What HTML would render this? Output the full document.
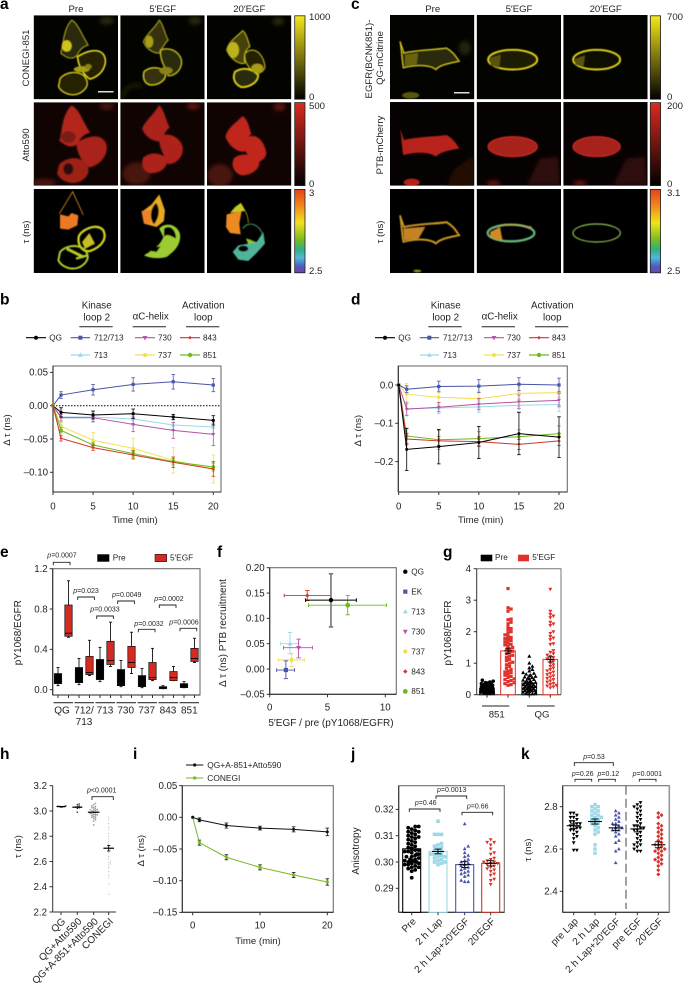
<!DOCTYPE html>
<html lang="en">
<head>
<meta charset="utf-8">
<title>CONEGI EGFR figure</title>
<style>
html,body{margin:0;padding:0;background:#fff}
svg text{font-family:"Liberation Sans",sans-serif;fill:#231f20}
#fig{display:block}
.pl{font-size:15.5px;font-weight:bold;fill:#000}
.t9{font-size:9.6px}
</style>
</head>
<body>
<svg id="fig" xmlns="http://www.w3.org/2000/svg" width="683" height="987" viewBox="0 0 683 987">
<defs>
<filter id="b1" x="-20%" y="-20%" width="140%" height="140%"><feGaussianBlur stdDeviation="1.4"/></filter>
<filter id="b3" x="-20%" y="-20%" width="140%" height="140%"><feGaussianBlur stdDeviation="2.6"/></filter>
<filter id="b2" x="-30%" y="-30%" width="160%" height="160%"><feGaussianBlur stdDeviation="6"/></filter>
<linearGradient id="gy" x1="0" y1="0" x2="0" y2="1"><stop offset="0" stop-color="#f6e71c"/><stop offset="1" stop-color="#000"/></linearGradient>
<linearGradient id="gr" x1="0" y1="0" x2="0" y2="1"><stop offset="0" stop-color="#dc2a20"/><stop offset="1" stop-color="#000"/></linearGradient>
<linearGradient id="gt" x1="0" y1="0" x2="0" y2="1"><stop offset="0" stop-color="#e8401c"/><stop offset=".2" stop-color="#f08a1c"/><stop offset=".4" stop-color="#f2e21c"/><stop offset=".6" stop-color="#7cbc20"/><stop offset=".72" stop-color="#30b080"/><stop offset=".82" stop-color="#50b8d8"/><stop offset=".92" stop-color="#4a60c0"/><stop offset="1" stop-color="#7a3ca8"/></linearGradient>
<path id="a1t" d="M215,60 C235,70 245,105 265,135 C250,140 238,150 232,165 C215,185 195,170 182,160 C190,130 190,85 215,60Z"/>
<path id="a1m" d="M232,170 C255,155 295,140 312,165 C325,190 310,225 270,238 C250,225 235,200 232,170Z"/>
<path id="a1b" d="M180,235 C195,218 225,210 250,225 C270,245 265,265 240,280 C215,292 185,280 175,260Z"/>
<path id="a2t" d="M478,60 C490,70 495,105 505,120 C490,135 485,150 478,160 C462,160 440,150 430,125 C440,100 465,85 478,60Z"/>
<path id="a2m" d="M482,150 C505,140 535,150 545,180 C548,210 525,228 505,228 C495,200 478,180 482,150Z"/>
<path id="a2b" d="M432,215 C450,198 480,200 495,215 C505,235 480,258 450,255 C430,250 428,230 432,215Z"/>
<path id="a3t" d="M728,92 C740,100 745,125 750,140 C735,150 730,170 735,190 C715,195 690,175 680,150 C685,125 710,110 728,92Z"/>
<path id="a3m" d="M735,160 C755,140 785,150 795,195 C798,215 775,222 765,225 C750,205 730,190 735,160Z"/>
<path id="a3b" d="M705,215 C730,200 755,205 775,225 C775,250 745,262 725,262 C705,255 695,235 705,215Z"/>
<path id="c1" d="M180,125 L192,160 C230,150 290,150 320,145 C345,160 350,175 358,185 C335,190 300,195 288,210 C270,195 225,195 190,205 C185,180 185,150 180,125Z"/>
<ellipse id="c2" cx="518" cy="180" rx="74" ry="30"/>
<ellipse id="c3" cx="770" cy="180" rx="71" ry="30"/>
</defs>

<!-- Panel a images -->
<g>
<svg x="33.7" y="15.3" width="84.3" height="84" viewBox="101 46 253 252"><rect x="101" y="46" width="253" height="252" fill="#030300"/>
<g filter="url(#b2)"><ellipse cx="320" cy="62" rx="22" ry="12" fill="#2a280a"/></g>
<g filter="url(#b1)"><use href="#a1t" fill="#2b2907" stroke="#b8ae1c" stroke-width="2.5"/><use href="#a1m" fill="#262406" stroke="#e8dc20" stroke-width="4"/><use href="#a1b" fill="#262406" stroke="#d8cc1e" stroke-width="3.5"/><ellipse cx="200" cy="138" rx="15" ry="17" fill="#d0c41e"/><ellipse cx="245" cy="208" rx="24" ry="9" fill="#a89e18"/><ellipse cx="265" cy="200" rx="10" ry="8" fill="#8a8214"/></g></svg>
<svg x="120.3" y="15.3" width="84.3" height="84" viewBox="361 46 253 252"><rect x="361" y="46" width="253" height="252" fill="#030300"/>
<g filter="url(#b2)"><ellipse cx="585" cy="62" rx="20" ry="12" fill="#2a280a"/><path d="M365,295 C375,260 400,250 425,260" stroke="#2a280a" stroke-width="8" fill="none"/></g>
<g filter="url(#b1)"><use href="#a2t" fill="#35320a" stroke="#a89e1a" stroke-width="3"/><use href="#a2m" fill="#2b2907" stroke="#c8bd1e" stroke-width="3.5"/><use href="#a2b" fill="#35320a" stroke="#d0c41e" stroke-width="4"/><ellipse cx="448" cy="125" rx="12" ry="18" fill="#a89e18"/><ellipse cx="498" cy="212" rx="20" ry="11" fill="#8a8214"/></g></svg>
<svg x="207" y="15.3" width="84.3" height="84" viewBox="621 46 253 252"><rect x="621" y="46" width="253" height="252" fill="#030300"/>
<g filter="url(#b2)"><ellipse cx="835" cy="64" rx="18" ry="12" fill="#2a280a"/></g>
<g filter="url(#b1)"><use href="#a3t" fill="#46420c" stroke="#c0b51e" stroke-width="3"/><use href="#a3m" fill="#262406" stroke="#c8bd1e" stroke-width="2.5"/><use href="#a3b" fill="#2b2907" stroke="#e0d41e" stroke-width="5"/><ellipse cx="700" cy="150" rx="17" ry="24" fill="#bcb21c"/><ellipse cx="772" cy="205" rx="18" ry="14" fill="#a89e18"/></g></svg>

<svg x="33.7" y="102.3" width="84.3" height="83.3" viewBox="101 46 253 250"><rect x="101" y="46" width="253" height="250" fill="#100403"/>
<g filter="url(#b2)"><ellipse cx="320" cy="58" rx="22" ry="10" fill="#4a1210"/><ellipse cx="130" cy="288" rx="40" ry="12" fill="#4a120e"/></g>
<g filter="url(#b3)" fill="#9c2118" stroke="#9c2118" stroke-width="7"><use href="#a1t" fill="#b3261c" stroke="#b3261c"/><use href="#a1m" fill="#aa241a" stroke="#aa241a"/><use href="#a1b"/><ellipse cx="205" cy="246" rx="15" ry="17" fill="#2a0a08" stroke="none"/><ellipse cx="205" cy="150" rx="22" ry="18" fill="#7c1c12" stroke="none"/></g></svg>
<svg x="120.3" y="102.3" width="84.3" height="83.3" viewBox="361 46 253 250"><rect x="361" y="46" width="253" height="250" fill="#100403"/>
<g filter="url(#b2)"><ellipse cx="580" cy="58" rx="20" ry="9" fill="#6a1610"/><ellipse cx="410" cy="260" rx="42" ry="34" fill="#48120e"/></g>
<g filter="url(#b3)" fill="#ae241b" stroke="#ae241b" stroke-width="7"><use href="#a2t"/><use href="#a2m"/><use href="#a2b"/></g></svg>
<svg x="207" y="102.3" width="84.3" height="83.3" viewBox="621 46 253 250"><rect x="621" y="46" width="253" height="250" fill="#100403"/>
<g filter="url(#b2)"><ellipse cx="838" cy="60" rx="18" ry="12" fill="#5a1410"/><ellipse cx="660" cy="265" rx="38" ry="34" fill="#48120e"/></g>
<g filter="url(#b3)" fill="#c0281e" stroke="#c0281e" stroke-width="7"><use href="#a3t"/><use href="#a3m"/><use href="#a3b"/></g></svg>

<svg x="33.7" y="189" width="84.3" height="84" viewBox="101 46 253 252"><rect x="101" y="46" width="253" height="252" fill="#000"/>
<g filter="url(#b1)" fill="none"><path d="M178,120 L218,54 L250,124" stroke="#dc8a2c" stroke-width="2.5"/><path d="M180,122 L205,128 L215,118 L235,125 L232,155 L205,168 L180,165Z" fill="#ec7a24"/><path d="M236,190 C240,170 290,145 310,170 C322,195 305,220 270,232 C250,236 232,218 236,190Z" stroke="#cdd21e" stroke-width="7"/><path d="M246,205 L268,178 L285,210 L255,226Z" fill="#c8c020"/><path d="M180,235 C195,218 225,210 250,225 C272,245 265,265 240,280 C215,292 185,280 175,260Z" stroke="#b4cc28" stroke-width="6"/><path d="M200,225 L250,250" stroke="#b4cc28" stroke-width="9"/><path d="M228,255 L262,245" stroke="#b4cc28" stroke-width="7"/></g></svg>
<svg x="120.3" y="189" width="84.3" height="84" viewBox="361 46 253 252"><rect x="361" y="46" width="253" height="252" fill="#000"/>
<g filter="url(#b1)" fill="none"><path d="M478,62 L495,110 L492,142 L470,160 L432,150 L425,115 L455,92Z" fill="#e8a822"/><path d="M425,112 L452,108 L452,150 L432,150Z" fill="#ee8226"/><path d="M468,88 C480,100 480,130 462,152 C448,135 450,105 468,88Z" fill="#000"/><path d="M478,165 C495,145 530,150 540,180 C545,215 520,235 500,250 C470,258 440,250 432,245 C465,225 480,215 490,190Z" fill="#9ccc30"/><path d="M492,165 C510,150 530,170 528,195 C510,185 500,180 492,190Z" fill="#000"/><path d="M448,222 L482,218 L470,235 L440,230Z" fill="#000"/></g></svg>
<svg x="207" y="189" width="84.3" height="84" viewBox="621 46 253 252"><rect x="621" y="46" width="253" height="252" fill="#000"/>
<g filter="url(#b1)" fill="none"><path d="M722,88 C735,110 745,125 745,148" stroke="#c8c820" stroke-width="2"/><path d="M722,88 L735,112 L690,118 L705,100Z" fill="#c8c820"/><path d="M680,122 L725,112 L718,150 L722,182 L690,178 L678,160Z" fill="#ee8a22"/><path d="M728,165 C745,140 780,150 790,190" stroke="#58b878" stroke-width="2.5"/><path d="M790,175 L795,210 L770,238 L745,262 L715,258 L698,235 L715,215 L745,210 L770,205Z" fill="#50b49a"/><path d="M740,195 C745,165 770,155 778,178 C775,195 755,205 740,195Z" fill="#000"/><ellipse cx="730" cy="225" rx="15" ry="9" fill="#000"/><path d="M738,195 L770,205 L745,212Z" fill="#90c438"/></g></svg>
</g>

<!-- Panel c images -->
<g>
<svg x="390" y="15" width="84.3" height="84.3" viewBox="150 46 253 253"><rect x="150" y="46" width="253" height="253" fill="#030300"/>
<g filter="url(#b2)"><ellipse cx="375" cy="145" rx="18" ry="22" fill="#22200a"/></g>
<g filter="url(#b1)"><use href="#c1" fill="#2b2907" stroke="#d8cc1e" stroke-width="3.5"/><path d="M195,165 L235,160 L230,195 L195,200Z" fill="#6a6410"/><ellipse cx="212" cy="287" rx="26" ry="10" fill="#5a5510"/></g></svg>
<svg x="476.7" y="15" width="84.3" height="84.3" viewBox="410 46 253 253"><rect x="410" y="46" width="253" height="253" fill="#030300"/>
<g filter="url(#b1)"><use href="#c2" fill="#1c1a05" stroke="#e0d41e" stroke-width="5"/><path d="M448,175 L482,165 L478,205 L452,198Z" fill="#585210"/></g></svg>
<svg x="563.3" y="15" width="84.3" height="84.3" viewBox="670 46 253 253"><rect x="670" y="46" width="253" height="253" fill="#030300"/>
<g filter="url(#b1)"><use href="#c3" fill="#100f04" stroke="#e0d41e" stroke-width="5"/><path d="M704,178 L735,167 L730,203 L706,195Z" fill="#585210"/></g></svg>

<svg x="390" y="102" width="84.3" height="83.7" viewBox="150 46 253 251"><rect x="150" y="46" width="253" height="251" fill="#070202"/>
<g filter="url(#b2)"><path d="M340,250 L403,205 L403,300 L320,300Z" fill="#220806"/></g>
<g filter="url(#b1)"><ellipse cx="215" cy="287" rx="24" ry="11" fill="#b8241c"/><use href="#c1" fill="#b8241c"/></g></svg>
<svg x="476.7" y="102" width="84.3" height="83.7" viewBox="410 46 253 251"><rect x="410" y="46" width="253" height="251" fill="#070202"/>
<g filter="url(#b2)"><ellipse cx="460" cy="290" rx="20" ry="8" fill="#701612"/><path d="M560,295 L600,215 L655,210 L660,295Z" fill="#2e0b09"/></g>
<g filter="url(#b1)"><use href="#c2" fill="#a8221a" stroke="#d42c20" stroke-width="3"/></g></svg>
<svg x="563.3" y="102" width="84.3" height="83.7" viewBox="670 46 253 251"><rect x="670" y="46" width="253" height="251" fill="#070202"/>
<g filter="url(#b2)"><ellipse cx="720" cy="290" rx="20" ry="8" fill="#701612"/><path d="M820,295 L860,215 L915,210 L920,295Z" fill="#2e0b09"/></g>
<g filter="url(#b1)"><use href="#c3" fill="#a8221a" stroke="#d42c20" stroke-width="3"/></g></svg>

<svg x="390" y="189" width="84.3" height="84" viewBox="150 46 253 252"><rect x="150" y="46" width="253" height="252" fill="#000"/>
<g filter="url(#b1)"><use href="#c1" fill="#000" stroke="#cf9a28" stroke-width="5"/><path d="M190,165 L255,160 L235,195 L192,200Z" fill="#c48428"/><ellipse cx="232" cy="292" rx="12" ry="4" fill="#8a8a20"/></g></svg>
<svg x="476.7" y="189" width="84.3" height="84" viewBox="410 46 253 252"><rect x="410" y="46" width="253" height="252" fill="#000"/>
<g filter="url(#b1)"><ellipse cx="513" cy="178" rx="70" ry="25" fill="none" stroke="#68b478" stroke-width="7"/><path d="M450,175 L480,160 L488,202 L452,192Z" fill="#d08a28"/><path d="M480,155 Q515,150 575,160" fill="none" stroke="#d09a28" stroke-width="3"/></g></svg>
<svg x="563.3" y="189" width="84.3" height="84" viewBox="670 46 253 252"><rect x="670" y="46" width="253" height="252" fill="#000"/>
<g filter="url(#b1)"><ellipse cx="770" cy="178" rx="71" ry="27" fill="none" stroke="#8cc050" stroke-width="3.5"/></g></svg>
</g>

<!-- colorbars -->
<g stroke="#222" stroke-width=".8">
<rect x="294.7" y="15.8" width="10.3" height="83.4" fill="url(#gy)"/>
<rect x="294.7" y="102.6" width="10.3" height="83" fill="url(#gr)"/>
<rect x="294.7" y="189.4" width="10.3" height="83.4" fill="url(#gt)"/>
<rect x="650.3" y="15.8" width="10.3" height="83.4" fill="url(#gy)"/>
<rect x="650.3" y="102.6" width="10.3" height="83" fill="url(#gr)"/>
<rect x="650.3" y="189.4" width="10.3" height="83.4" fill="url(#gt)"/>
</g>

<!-- static labels -->
<g>
<text class="pl" x="0" y="9">a</text>
<text class="pl" x="351" y="9">c</text>
<text class="pl" x="0" y="304.5">b</text>
<text class="pl" x="351" y="304.5">d</text>
<text class="pl" x="0" y="557">e</text>
<text class="pl" x="217" y="557">f</text>
<text class="pl" x="443" y="557">g</text>
<text class="pl" x="0" y="759">h</text>
<text class="pl" x="133" y="759">i</text>
<text class="pl" x="351" y="759">j</text>
<text class="pl" x="521" y="759">k</text>
</g>
<g class="t9" text-anchor="middle">
<text x="76" y="12">Pre</text>
<text x="162.7" y="12">5′EGF</text>
<text x="249.3" y="12">20′EGF</text>
<text x="432.7" y="12">Pre</text>
<text x="519" y="12">5′EGF</text>
<text x="605.7" y="12">20′EGF</text>
<text transform="translate(29,58) rotate(-90)">CONEGI-851</text>
<text transform="translate(29,145) rotate(-90)">Atto590</text>
<text transform="translate(29,232) rotate(-90)">τ (ns)</text>
<text transform="translate(372,59) rotate(-90)">EGFR(BCNK851)-</text>
<text transform="translate(383,58) rotate(-90)">QG-mCitrine</text>
<text transform="translate(383,145) rotate(-90)">PTB-mCherry</text>
<text transform="translate(383,232) rotate(-90)">τ (ns)</text>
</g>
<g class="t9">
<text x="309" y="20">1000</text>
<text x="309" y="100">0</text>
<text x="309" y="109">500</text>
<text x="309" y="187">0</text>
<text x="309" y="196">3</text>
<text x="309" y="274">2.5</text>
<text x="667" y="20">700</text>
<text x="667" y="100">0</text>
<text x="667" y="109">200</text>
<text x="667" y="187">0</text>
<text x="667" y="196">3.1</text>
<text x="667" y="274">2.5</text>
</g>
<rect x="98" y="91" width="15.5" height="1.5" fill="#ddd"/>
<rect x="454" y="92" width="15.5" height="1.5" fill="#ddd"/>
<g id="charts"></g>
</svg>

<script>
// ---- Panel b data ----
const times=[0,1,5,10,15,20];
const bQG=[0,-0.010,-0.014,-0.012,-0.017,-0.022];
const bQGErr=[0,0.007,0.006,0.007,0.004,0.007];
const b712=[0,0.016,0.024,0.032,0.036,0.031];
const b712Err=[0,0.005,0.008,0.010,0.011,0.010];
const b713=[0,-0.017,-0.017,-0.020,-0.029,-0.032];
const b713Err=[0,0.012,0.008,0.010,0.008,0.010];
const b730=[0,-0.018,-0.018,-0.028,-0.037,-0.043];
const b730Err=[0,0.005,0.006,0.011,0.012,0.017];
const b737=[0,-0.031,-0.052,-0.064,-0.082,-0.095];
const b737Err=[0,0.006,0.012,0.015,0.019,0.021];
const b843=[0,-0.049,-0.063,-0.074,-0.085,-0.095];
const b843Err=[0,0.004,0.004,0.006,0.008,0.011];
const b851=[0,-0.037,-0.059,-0.072,-0.084,-0.092];
const b851Err=[0,0.004,0.004,0.005,0.005,0.006];
const bYTicks=[0.05,0,-0.05,-0.10];
const bYLabels=['0.05','0.00','–0.05','–0.10'];
const xTimeTicks=[0,5,10,15,20];
// ---- Panel d data ----
const dQG=[0,-0.168,-0.161,-0.150,-0.127,-0.136];
const dQGErr=[0,0.055,0.045,0.042,0.055,0.053];
const d712=[0,-0.011,-0.004,-0.003,0.002,0];
const d712Err=[0,0.009,0.014,0.017,0.017,0.018];
const d713=[0,-0.062,-0.060,-0.057,-0.053,-0.051];
const d713Err=[0,0.019,0.015,0.015,0.016,0.018];
const d730=[0,-0.063,-0.058,-0.050,-0.044,-0.040];
const d730Err=[0,0.016,0.012,0.015,0.018,0.017];
const d737=[0,-0.024,-0.032,-0.036,-0.022,-0.020];
const d737Err=[0,0.028,0.020,0.020,0.017,0.019];
const d843=[0,-0.141,-0.146,-0.148,-0.155,-0.146];
const d843Err=[0,0.015,0.012,0.013,0.013,0.012];
const d851=[0,-0.133,-0.143,-0.140,-0.135,-0.127];
const d851Err=[0,0.020,0.025,0.018,0.018,0.020];
const dYTicks=[0,-0.1,-0.2];
const dYLabels=['0.0','–0.1','–0.2'];
// ---- Panel e data: low whisker, q1, median, q3, high whisker ----
const eGroups=['QG','712/713','713','730','737','843','851'];
const ePre=[[.04,.06,.10,.16,.22],[.05,.07,.12,.22,.31],[.08,.10,.18,.30,.42],[.03,.04,.07,.20,.29],[.02,.03,.06,.14,.21],[.01,.01,.02,.03,.04],[.02,.02,.04,.06,.08]];
const ePost=[[.52,.53,.56,.84,1.08],[.14,.15,.17,.33,.49],[.23,.25,.29,.48,.67],[.16,.22,.27,.43,.57],[.09,.10,.12,.27,.41],[.09,.09,.12,.18,.23],[.27,.28,.31,.41,.51]];
const eYTicks=[1.2,0.8,0.4,0];
const eYLabels=['1.2','0.8','0.4','0.0'];
const ePValues=['p=0.0007','p=0.023','p=0.0033','p=0.0049','p=0.0032','p=0.0002','p=0.0006'];
// ---- Panel f data ----
const fLabels=['QG','EK','713','730','737','843','851'];
const fX=[5.3,1.4,1.75,2.5,1.9,3.25,6.75];
const fXLow=[3.1,0.6,0.95,1.2,0.75,1.25,3.35];
const fXHigh=[7.5,2.15,2.5,3.7,3.0,5.3,10.1];
const fY=[0.136,-0.002,0.05,0.042,0.018,0.145,0.126];
const fYLow=[0.083,-0.019,0.03,0.022,0.005,0.135,0.107];
const fYHigh=[0.188,0.016,0.072,0.059,0.031,0.155,0.145];
const fXTicks=[0,5,10];
const fYTicks=[0.20,0.15,0.10,0.05,0,-0.05];
const fYLabels=['0.20','0.15','0.10','0.05','0.00','–0.05'];
// ---- Panel g data ----
const g851Pre=[.04,.05,.06,.07,.08,.08,.09,.1,.1,.11,.11,.12,.12,.13,.13,.14,.14,.15,.15,.16,.16,.17,.17,.18,.18,.19,.2,.2,.21,.22,.22,.23,.24,.25,.25,.26,.27,.28,.29,.3,.31,.32,.33,.34,.35,.37,.38,.4,.43,.46];
const g851Post=[.3,.32,.35,.38,.42,.45,.48,.5,.55,.58,.62,.65,.7,.72,.75,.8,.84,.9,.95,1,1.03,1.08,1.12,1.18,1.22,1.25,1.3,1.34,1.38,1.42,1.45,1.5,1.55,1.58,1.6,1.65,1.68,1.72,1.75,1.78,1.82,1.85,1.9,1.95,2,2.05,2.1,2.15,2.25,2.3,2.38,2.4,2.65,2.72,2.76,3.37];
const gQGPre=[.02,.03,.05,.06,.08,.09,.1,.12,.13,.14,.15,.16,.18,.19,.2,.21,.22,.24,.25,.26,.27,.28,.3,.31,.32,.33,.35,.36,.38,.39,.4,.42,.44,.46,.48,.5,.52,.54,.56,.58,.6,.62,.65,.68,.7,.75,.8,.85,.9,1.0,1.22];
const gQGPost=[.22,.25,.28,.3,.33,.36,.4,.44,.48,.52,.56,.6,.64,.68,.72,.76,.8,.85,.9,.95,1,1.05,1.1,1.14,1.18,1.22,1.26,1.3,1.35,1.4,1.6,1.62,1.75,1.8,1.85,1.95,2,2.2,2.25,2.3,2.45,2.5,2.55,2.65,3.35];
const gMeans=[0.2,1.39,0.37,1.12];
const gErrs=[0.02,0.09,0.03,0.08];
const gYTicks=[4,3,2,1,0];
// ---- Panel h data ----
const hQG=[3.03,3.032,3.035,3.035,3.037,3.04];
const hQGAtto=[2.99,3.02,3.025,3.03,3.03,3.035,3.04,3.05,3.055];
const hA851=[2.89,2.92,2.93,2.94,2.945,2.95,2.955,2.96,2.965,2.97,2.97,2.975,2.98,2.98,2.985,2.99,2.99,3.0,3.0,3.005,3.01,3.01,3.015,3.02,3.025,3.03,3.035,3.04,3.05,3.06];
const hConegi=[2.34,2.42,2.47,2.49,2.52,2.55,2.57,2.58,2.59,2.6,2.62,2.64,2.67,2.69,2.7,2.72,2.74,2.76,2.78,2.8,2.82,2.85,2.87,2.9,2.93,2.95];
const hMeans=[3.035,3.03,2.99,2.705];
const hErrs=[0.002,0.004,0.006,0.022];
const hYTicks=[3.2,3.0,2.8,2.6,2.4,2.2];
const hGroups=['QG','QG+Atto590','QG+A-851+Atto590','CONEGI'];
// ---- Panel i data ----
const iQG=[0,-0.004,-0.013,-0.017,-0.019,-0.023];
const iQGErr=[0,0.003,0.004,0.003,0.004,0.006];
const iCon=[0,-0.040,-0.063,-0.079,-0.091,-0.102];
const iConErr=[0,0.004,0.004,0.004,0.004,0.005];
const iYTicks=[0.05,0,-0.05,-0.10,-0.15];
const iYLabels=['0.05','0.00','–0.05','–0.10','–0.15'];
const iXTicks=[0,10,20];
// ---- Panel j data ----
const jPre=[.294,.2965,.297,.2975,.298,.298,.2985,.299,.299,.2995,.2995,.3,.3,.3,.3005,.3005,.301,.301,.3015,.302,.302,.3025,.303,.303,.3035,.304,.304,.3045,.3045,.305,.305,.3055,.306,.3065,.307,.3075,.308,.3085,.309,.3095,.3095,.31,.3105,.311,.3115,.3115,.312,.3125,.313,.3135,.3135];
const jLap=[.299,.2995,.3,.3,.3005,.301,.3015,.302,.302,.3025,.303,.303,.3035,.304,.3045,.305,.3055,.306,.3065,.307,.3105,.3105,.3105,.3155];
const jLapEGF=[.2925,.2925,.293,.2945,.295,.2955,.296,.2965,.297,.2975,.298,.2985,.299,.2995,.3,.3005,.301,.302,.3025,.3035,.305,.306,.3145];
const jEGF=[.2915,.293,.2935,.295,.2955,.2965,.297,.2975,.298,.2985,.299,.2995,.2995,.3,.3,.3005,.301,.3015,.303,.3035,.305,.3065,.3075,.3075,.3085];
const jMeans=[0.305,0.304,0.299,0.2995];
const jErrs=[0.0006,0.0009,0.0011,0.0010];
const jGroups=['Pre','2 h Lap','2 h Lap+20′EGF','20′EGF'];
const jYTicks=[0.32,0.31,0.30,0.29];
const jYLabels=['0.32','0.31','0.30','0.29'];
// ---- Panel k data ----
const kPreLap=[2.595,2.595,2.63,2.65,2.66,2.67,2.68,2.69,2.69,2.70,2.70,2.71,2.71,2.72,2.72,2.73,2.73,2.74,2.75,2.75,2.76,2.77,2.77];
const kLap=[2.58,2.60,2.62,2.67,2.68,2.69,2.70,2.71,2.72,2.72,2.73,2.74,2.74,2.75,2.75,2.76,2.76,2.77,2.78,2.78,2.79,2.80,2.80,2.81];
const kLapEGF=[2.535,2.59,2.60,2.63,2.64,2.66,2.67,2.68,2.69,2.69,2.70,2.70,2.71,2.72,2.72,2.73,2.74,2.75,2.76,2.77,2.78];
const kPreEGF=[2.59,2.59,2.60,2.61,2.62,2.62,2.63,2.64,2.65,2.66,2.67,2.68,2.69,2.69,2.70,2.70,2.71,2.71,2.72,2.73,2.74,2.75,2.76,2.77,2.78,2.79,2.80,2.80,2.81,2.82];
const kEGF=[2.48,2.50,2.52,2.53,2.54,2.55,2.55,2.56,2.57,2.58,2.59,2.59,2.60,2.60,2.61,2.62,2.62,2.63,2.64,2.65,2.66,2.67,2.68,2.69,2.70,2.71,2.72,2.75,2.76,2.77];
const kMeans=[2.71,2.73,2.70,2.695,2.62];
const kErrs=[0.012,0.012,0.013,0.014,0.014];
const kGroups=['pre Lap','2 h Lap','2 h Lap+20′EGF','pre EGF','20′EGF'];
const kYTicks=[2.8,2.6,2.4];
const kYLabels=['2.8','2.6','2.4'];

// ---- styles ----
const C={QG:'#000',b712:'#4a55a6',b713:'#9bd9e8',b730:'#b552aa',b737:'#f5df4d',b843:'#d5352c',b851:'#6fb81e',dark:'#231f20'};
const root=document.getElementById('charts');
const NS='http://www.w3.org/2000/svg';

function mk(tag,attrs,parent,name){
  const el=document.createElementNS(NS,tag);
  for(const k in attrs) el.setAttribute(k,attrs[k]);
  
  
  parent.appendChild(el);
  return el;
}
function txt(x,y,s,parent,name,size,anchor,extra){
  const a=Object.assign({x:x,y:y,'font-size':size||9.6,'text-anchor':anchor||'start'},extra||{});
  const el=mk('text',a,parent,name);
  el.textContent=s;
  return el;
}
function rtxt(x,y,s,parent,name,size,rot,anchor){
  const el=mk('text',{transform:'translate('+x+','+y+') rotate('+rot+')','font-size':size||9.6,'text-anchor':anchor||'middle'},parent,name);
  el.textContent=s;
  return el;
}
function ln(x1,y1,x2,y2,parent,name,stroke,w,extra){
  return mk('line',Object.assign({x1:x1,y1:y1,x2:x2,y2:y2,stroke:stroke||C.dark,'stroke-width':w||1},extra||{}),parent,name);
}
function scale(d0,d1,r0,r1){return function(v){return r0+(v-d0)*(r1-r0)/(d1-d0);};}
function marker(type,x,y,r,color,parent,name){
  if(type==='circle') return mk('circle',{cx:x,cy:y,r:r,fill:color},parent,name);
  if(type==='square') return mk('rect',{x:x-r,y:y-r,width:2*r,height:2*r,fill:color},parent,name);
  let pts;
  if(type==='up') pts=[[x,y-r*1.2],[x+r*1.1,y+r*.8],[x-r*1.1,y+r*.8]];
  else if(type==='down') pts=[[x,y+r*1.2],[x+r*1.1,y-r*.8],[x-r*1.1,y-r*.8]];
  else pts=[[x,y-r*1.2],[x+r*1.2,y],[x,y+r*1.2],[x-r*1.2,y]];
  return mk('polygon',{points:pts.map(function(p){return p.join(',');}).join(' '),fill:color},parent,name);
}
function frame(x0,y0,x1,y1,parent,name){
  mk('rect',{x:x0,y:y0,width:x1-x0,height:y1-y0,fill:'none',stroke:'#6e6e6e','stroke-width':1.1},parent,name+'-frame');
  ln(x0,y0,x0,y1,parent,name+'-y-axis','#333',1.1);
  ln(x0,y1,x1,y1,parent,name+'-x-axis','#333',1.1);
}
function yAxis(ticks,labels,sy,x,parent,name){
  ticks.forEach(function(t,i){
    ln(x-3,sy(t),x,sy(t),parent,name+'-y-tick','#333',1);
    txt(x-5,sy(t)+3.3,labels[i],parent,name+'-y-tick-label',9.7,'end');
  });
}
function xAxis(ticks,labels,sx,y,labelY,parent,name){
  ticks.forEach(function(t,i){
    ln(sx(t),y,sx(t),y+3,parent,name+'-x-tick','#333',1);
    txt(sx(t),labelY,labels[i],parent,name+'-x-tick-label',9.7,'middle');
  });
}
function errBar(x,yLo,yHi,cap,parent,name,color,w){
  ln(x,yLo,x,yHi,parent,name,color,w||.8);
  ln(x-cap,yLo,x+cap,yLo,parent,name+'-cap',color,w||.8);
  ln(x-cap,yHi,x+cap,yHi,parent,name+'-cap',color,w||.8);
}
function series(xs,ys,errs,sx,sy,color,mtype,r,parent,name,errColor){
  const g=mk('g',{},parent,name);
  xs.forEach(function(t,i){
    if(errs[i]>0) errBar(sx(t),sy(ys[i]-errs[i]),sy(ys[i]+errs[i]),1.8,g,name+'-error-bar',errColor||color,.8);
  });
  mk('polyline',{points:xs.map(function(t,i){return sx(t)+','+sy(ys[i]);}).join(' '),fill:'none',stroke:color,'stroke-width':1},g,name+'-line');
  xs.forEach(function(t,i){marker(mtype,sx(t),sy(ys[i]),r,color,g,name+'-point');});
}
// deterministic beeswarm: x offsets derived only from the values
function swarm(values,cx,sy,dist,maxW,mtype,r,color,parent,name){
  const placed=[];
  const g=mk('g',{},parent,name);
  values.slice().sort(function(a,b){return a-b;}).forEach(function(v){
    const y=sy(v);
    let chosen=0,found=false;
    for(let k=0;k<=Math.ceil(maxW/(dist*.5))*2;k++){
      const off=(k%2?1:-1)*Math.ceil(k/2)*dist*.5;
      if(Math.abs(off)>maxW) continue;
      const ok=placed.every(function(p){const dx=p[0]-off,dy=p[1]-y;return dx*dx+dy*dy>=dist*dist;});
      if(ok){chosen=off;found=true;break;}
    }
    if(!found){chosen=(placed.length%2?1:-1)*maxW*((placed.length%5)/5);}
    placed.push([chosen,y]);
    marker(mtype,cx+chosen,y,r,color,g,name+'-point');
  });
}
function bracket(x0,x1,y,leg,parent,name){
  mk('polyline',{points:x0+','+(y+leg)+' '+x0+','+y+' '+x1+','+y+' '+x1+','+(y+leg),fill:'none',stroke:'#222','stroke-width':.9},parent,name);
}
function pText(cx,y,label,parent,name){
  const el=mk('text',{x:cx,y:y,'font-size':7,'text-anchor':'middle'},parent,name);
  const sp=document.createElementNS(NS,'tspan');
  sp.setAttribute('font-style','italic');
  sp.textContent=label.charAt(0);
  el.appendChild(sp);
  el.appendChild(document.createTextNode(label.slice(1)));
}

// ---- legend for b and d ----
function kinaseLegend(dx,parent,name){
  const g=mk('g',{},parent,name);
  txt(96.7+dx,308.5,'Kinase',g,name+'-kinase',9.8,'middle');
  txt(96.7+dx,320.5,'loop 2',g,name+'-loop2',9.8,'middle');
  ln(79.3+dx,326.7,112.7+dx,326.7,g,name+'-kinase-rule','#222',1);
  txt(150.7+dx,319.5,'αC-helix',g,name+'-helix',9.8,'middle');
  ln(132.7+dx,326.7,166+dx,326.7,g,name+'-helix-rule','#222',1);
  txt(203.3+dx,308.5,'Activation',g,name+'-activation',9.8,'middle');
  txt(203.3+dx,320.5,'loop',g,name+'-loop',9.8,'middle');
  ln(186+dx,326.7,219.3+dx,326.7,g,name+'-activation-rule','#222',1);
  const rows=[[26,46,49.3,337.7,'QG',C.QG,'circle',2],[70.7,90,94,337.7,'712/713',C.b712,'square',2],[135,155,158,337.7,'730',C.b730,'down',2.2],[180,200,203,337.7,'843',C.b843,'diamond',1.5],[70.7,90,94,355,'713',C.b713,'up',2.2],[135,155,158,355,'737',C.b737,'circle',2],[180,200,203,355,'851',C.b851,'circle',2.2]];
  rows.forEach(function(r){
    ln(r[0]+dx,r[3],r[1]+dx,r[3],g,name+'-key-line',r[5],1.2);
    marker(r[6],(r[0]+r[1])/2+dx,r[3],r[7],r[5],g,name+'-key-marker');
    txt(r[2]+dx,r[3]+2.9,r[4],g,name+'-key-label',8.2);
  });
}

// ---- Panel b ----
(function(){
  const g=mk('g',{},root,'panel-b');
  kinaseLegend(0,g,'b-legend');
  const sx=scale(0,20,53,213.3), sy=scale(0,-0.1,405.7,472.3);
  frame(53,366,221,492,g,'b');
  ln(53,405.7,221,405.7,g,'b-zero-line','#000',1,{'stroke-dasharray':'1.5 1.5'});
  yAxis(bYTicks,bYLabels,sy,53,g,'b');
  xAxis(xTimeTicks,xTimeTicks.map(String),sx,492,509.3,g,'b');
  series(times,b737,b737Err,sx,sy,C.b737,'circle',1.7,g,'b-series-737');
  series(times,b713,b713Err,sx,sy,C.b713,'up',1.9,g,'b-series-713');
  series(times,b730,b730Err,sx,sy,C.b730,'down',1.7,g,'b-series-730');
  series(times,b712,b712Err,sx,sy,C.b712,'square',1.6,g,'b-series-712-713');
  series(times,bQG,bQGErr,sx,sy,C.QG,'circle',1.6,g,'b-series-qg');
  series(times,b851,b851Err,sx,sy,C.b851,'circle',1.9,g,'b-series-851');
  series(times,b843,b843Err,sx,sy,C.b843,'diamond',1.3,g,'b-series-843');
  txt(135,523,'Time (min)',g,'b-x-title',9.6,'middle');
  rtxt(10,430,'Δ τ (ns)',g,'b-y-title',9.6,-90);
})();

// ---- Panel d ----
(function(){
  const g=mk('g',{},root,'panel-d');
  kinaseLegend(349,g,'d-legend');
  const sx=scale(0,20,398.7,559), sy=scale(0,-0.1,385,423.3);
  frame(398.3,366,567.3,492,g,'d');
  yAxis(dYTicks,dYLabels,sy,398.3,g,'d');
  xAxis(xTimeTicks,xTimeTicks.map(String),sx,492,509.3,g,'d');
  series(times,d737,d737Err,sx,sy,C.b737,'circle',1.6,g,'d-series-737');
  series(times,d713,d713Err,sx,sy,C.b713,'up',1.8,g,'d-series-713');
  series(times,d730,d730Err,sx,sy,C.b730,'down',1.6,g,'d-series-730');
  series(times,d712,d712Err,sx,sy,C.b712,'square',1.6,g,'d-series-712-713');
  series(times,d851,d851Err,sx,sy,C.b851,'circle',1.7,g,'d-series-851');
  series(times,d843,d843Err,sx,sy,C.b843,'diamond',1.3,g,'d-series-843');
  series(times,dQG,dQGErr,sx,sy,C.QG,'circle',1.5,g,'d-series-qg');
  txt(480.7,523,'Time (min)',g,'d-x-title',9.6,'middle');
  rtxt(361,430.7,'Δ τ (ns)',g,'d-y-title',9.6,-90);
})();

// ---- Panel e ----
(function(){
  const g=mk('g',{},root,'panel-e');
  const sy=scale(0,1.2,689.7,568.7);
  const sx=function(i,j){return 58+i*21+j*10.5;};
  frame(52.7,568.7,200,695,g,'e');
  yAxis(eYTicks,eYLabels,sy,52.7,g,'e');
  function box(v,x,fill,name){
    const b=mk('g',{},g,name);
    ln(x,sy(v[0]),x,sy(v[4]),b,name+'-whisker','#111',.9);
    ln(x-1.5,sy(v[4]),x+1.5,sy(v[4]),b,name+'-whisker-cap','#111',.9);
    ln(x-1.5,sy(v[0]),x+1.5,sy(v[0]),b,name+'-whisker-cap','#111',.9);
    mk('rect',{x:x-3.7,y:sy(v[3]),width:7.4,height:sy(v[1])-sy(v[3]),fill:fill,stroke:'#111','stroke-width':.7},b,name+'-box');
    ln(x-3.7,sy(v[2]),x+3.7,sy(v[2]),b,name+'-median','#000',.9);
  }
  const bracketX=[53.3,77.7,96.7,117.7,138.3,159.3,180];
  const bracketY=[562.3,597,616,601,629.3,605,628.3];
  const labelX=[62,86,105,126.7,149,169,184];
  const labelY=[557.7,593,611.7,597,626,601,624.7];
  eGroups.forEach(function(name,i){
    const slug=name.replace('/','-');
    box(ePre[i],sx(i,0),'#000','e-box-pre-'+slug);
    box(ePost[i],sx(i,1),'#d42a22','e-box-5egf-'+slug);
    ln(sx(i,0),695,sx(i,0),698,g,'e-x-tick','#333',1);
    ln(sx(i,1),695,sx(i,1),698,g,'e-x-tick','#333',1);
    ln(sx(i,0)-4.5,702.7,sx(i,1)+4.5,702.7,g,'e-group-rule','#333',1.2);
    bracket(bracketX[i],bracketX[i]+16.7,bracketY[i],3,g,'e-significance-bracket');
    pText(labelX[i],labelY[i],ePValues[i],g,'e-p-value');
  });
  const xl=['QG','712/','713','730','737','843','851'];
  const xc=[62,84,105,125.7,146.7,168,189.3];
  xl.forEach(function(s,i){txt(xc[i],713.3,s,g,'e-x-label',10,'middle');});
  txt(84,725,'713',g,'e-x-label',10,'middle');
  mk('rect',{x:97.3,y:554.3,width:12,height:7.4,fill:'#000'},g,'e-legend-pre-swatch');
  txt(112.7,560.7,'Pre',g,'e-legend-pre',8.3);
  mk('rect',{x:155,y:554.3,width:11.7,height:7.4,fill:'#d42a22',stroke:'#222','stroke-width':.6},g,'e-legend-5egf-swatch');
  txt(170,560.7,'5′EGF',g,'e-legend-5egf',8.3);
  rtxt(21,632.7,'pY1068/EGFR',g,'e-y-title',10,-90);
})();

// ---- Panel f ----
(function(){
  const g=mk('g',{},root,'panel-f');
  const sx=scale(0,10,269.7,385.3), sy=scale(0,0.2,669,567.7);
  frame(269.7,567.7,396.3,694.3,g,'f');
  yAxis(fYTicks,fYLabels,sy,269.7,g,'f');
  xAxis(fXTicks,fXTicks.map(String),sx,694.3,710.7,g,'f');
  const colors=[C.QG,C.b712,C.b713,C.b730,C.b737,C.b843,C.b851];
  const types=['circle','square','up','down','circle','diamond','circle'];
  const sizes=[2.2,2.1,2.2,2.2,2.2,1.8,2.4];
  const order=[2,3,4,1,5,6,0];
  order.forEach(function(i){
    const s=mk('g',{},g,'f-point-group-'+fLabels[i]);
    const w=i===0?1:.9;
    ln(sx(fXLow[i]),sy(fY[i]),sx(fXHigh[i]),sy(fY[i]),s,'f-x-error',colors[i],w);
    ln(sx(fXLow[i]),sy(fY[i])-1.8,sx(fXLow[i]),sy(fY[i])+1.8,s,'f-x-error-cap',colors[i],w);
    ln(sx(fXHigh[i]),sy(fY[i])-1.8,sx(fXHigh[i]),sy(fY[i])+1.8,s,'f-x-error-cap',colors[i],w);
    errBar(sx(fX[i]),sy(fYLow[i]),sy(fYHigh[i]),2.2,s,'f-y-error',i===0?'#777':colors[i],i===0?1.6:.9);
    marker(types[i],sx(fX[i]),sy(fY[i]),sizes[i],colors[i],s,'f-point');
  });
  fLabels.forEach(function(s,i){
    const y=571.7+i*19.95;
    marker(types[i],405.3,y,sizes[i],colors[i],g,'f-legend-marker');
    txt(411.3,y+2.8,s,g,'f-legend-label',8.2);
  });
  txt(331,726,'5′EGF / pre (pY1068/EGFR)',g,'f-x-title',10,'middle');
  rtxt(226,633,'Δ τ (ns)  PTB recruitment',g,'f-y-title',10,-90);
})();

// ---- Panel g ----
(function(){
  const g=mk('g',{},root,'panel-g');
  const sy=scale(0,4,694.7,568.7);
  const xs=[487,508,529.3,550.3];
  const colors=['#000','#e0322a','#000','#e0322a'];
  mk('polyline',{points:'476.7,568.7 561,568.7 561,694.7',fill:'none',stroke:'#777','stroke-width':1},g,'g-frame');
  ln(476.7,568.7,476.7,694.7,g,'g-y-axis','#333',1);
  ln(476.7,694.7,561,694.7,g,'g-x-axis','#333',1);
  gYTicks.forEach(function(t){
    ln(473.7,sy(t),476.7,sy(t),g,'g-y-tick','#333',1);
    txt(471,sy(t)+3.3,String(t),g,'g-y-tick-label',9.7,'end');
  });
  xs.forEach(function(x,i){
    mk('rect',{x:x-7.3,y:sy(gMeans[i]),width:14.6,height:694.7-sy(gMeans[i]),fill:'#fff',stroke:colors[i],'stroke-width':1},g,'g-bar');
  });
  swarm(g851Pre,xs[0],sy,3.1,7,'circle',1.8,'#000',g,'g-swarm-851-pre');
  swarm(g851Post,xs[1],sy,3.1,7,'square',1.6,'#e0322a',g,'g-swarm-851-5egf');
  swarm(gQGPre,xs[2],sy,3.1,7,'up',1.8,'#000',g,'g-swarm-qg-pre');
  swarm(gQGPost,xs[3],sy,3.1,7,'down',1.8,'#e0322a',g,'g-swarm-qg-5egf');
  xs.forEach(function(x,i){
    ln(x,694.7,x,697.7,g,'g-x-tick','#333',1);
    ln(x-4,sy(gMeans[i]),x+4,sy(gMeans[i]),g,'g-mean','#000',.9);
    errBar(x,sy(gMeans[i]-gErrs[i]),sy(gMeans[i]+gErrs[i]),2.5,g,'g-error-bar','#000',.9);
  });
  ln(482,706,509.3,706,g,'g-group-rule','#222',1);
  ln(527,706,554.7,706,g,'g-group-rule','#222',1);
  txt(496.7,717.3,'851',g,'g-x-label',9.6,'middle');
  txt(542,717.3,'QG',g,'g-x-label',9.6,'middle');
  mk('rect',{x:480.7,y:554.7,width:11.6,height:6.6,fill:'#000'},g,'g-legend-pre-swatch');
  txt(495,560,'Pre',g,'g-legend-pre',8.2);
  mk('rect',{x:518,y:554.7,width:11,height:6.6,fill:'#e0322a'},g,'g-legend-5egf-swatch');
  txt(532.3,560,'5′EGF',g,'g-legend-5egf',8.2);
  rtxt(451,633,'pY1068/EGFR',g,'g-y-title',10,-90);
})();

// ---- Panel h ----
(function(){
  const g=mk('g',{},root,'panel-h');
  const sy=scale(3.2,2.2,785.7,912);
  const xs=[61,77.3,93.7,108.7];
  ln(52.7,785.7,52.7,912,g,'h-y-axis','#333',1);
  ln(52.7,912,116,912,g,'h-x-axis','#333',1);
  hYTicks.forEach(function(t){
    ln(49.5,sy(t),52.7,sy(t),g,'h-y-tick','#333',1);
    txt(47,sy(t)+3.3,t.toFixed(1),g,'h-y-tick-label',9.7,'end');
  });
  swarm(hQG,xs[0],sy,1.6,5,'circle',.8,'#222',g,'h-swarm-qg');
  swarm(hQGAtto,xs[1],sy,1.8,5,'circle',.8,'#333',g,'h-swarm-qg-atto');
  swarm(hA851,xs[2],sy,1.8,5,'circle',.85,'#999',g,'h-swarm-qg-a851-atto');
  swarm(hConegi,xs[3],sy,1.8,5,'circle',.65,'#c4c4c4',g,'h-swarm-conegi');
  const widths=[4.5,5,5.8,5.3];
  xs.forEach(function(x,i){
    ln(x-widths[i],sy(hMeans[i]),x+widths[i],sy(hMeans[i]),g,'h-mean','#000',1.2);
    if(hErrs[i]>0.01) errBar(x,sy(hMeans[i]-hErrs[i]),sy(hMeans[i]+hErrs[i]),1.6,g,'h-error-bar','#000',.8);
    ln(x,912,x,915,g,'h-x-tick','#333',1);
    rtxt(x+5,922,hGroups[i],g,'h-x-label',10,-45,'end');
  });
  bracket(92,113.3,796.7,3.3,g,'h-significance-bracket');
  pText(101.7,792.3,'p<0.0001',g,'h-p-value');
  rtxt(21,846.7,'τ (ns)',g,'h-y-title',9.6,-90);
})();

// ---- Panel i ----
(function(){
  const g=mk('g',{},root,'panel-i');
  const sx=scale(0,20,192.7,327.3), sy=scale(0,-0.05,817.3,849);
  frame(182.3,785.7,333.3,912.3,g,'i');
  yAxis(iYTicks,iYLabels,sy,182.3,g,'i');
  xAxis(iXTicks,iXTicks.map(String),sx,912.3,928.3,g,'i');
  series(times,iCon,iConErr,sx,sy,'#7ab82a','square',1.5,g,'i-series-conegi','#111');
  series(times,iQG,iQGErr,sx,sy,'#111','circle',1.5,g,'i-series-qg-a851-atto','#111');
  ln(186,765,203.3,765,g,'i-legend-line-qg','#111',1);
  marker('circle',194.7,765,1.6,'#111',g,'i-legend-marker-qg');
  txt(207.3,768,'QG+A-851+Atto590',g,'i-legend-label-qg',8.4);
  ln(186,778,203.3,778,g,'i-legend-line-conegi','#7ab82a',1);
  marker('square',194.7,778,1.5,'#7ab82a',g,'i-legend-marker-conegi');
  txt(207.3,781,'CONEGI',g,'i-legend-label-conegi',8.4);
  txt(258,944,'Time (min)',g,'i-x-title',9.6,'middle');
  rtxt(144,850.7,'Δ τ (ns)',g,'i-y-title',9.6,-90);
})();

// ---- Panel j ----
(function(){
  const g=mk('g',{},root,'panel-j');
  const sy=scale(0.30,0.31,862,835.7);
  const xs=[411.7,438,464.7,490.7];
  const colors=['#000','#9bd9e8','#4a55a6','#d5352c'];
  frame(398.7,785.7,504.3,912.3,g,'j');
  yAxis(jYTicks,jYLabels,sy,398.7,g,'j');
  xs.forEach(function(x,i){
    mk('rect',{x:x-9,y:sy(jMeans[i]),width:18,height:912.3-sy(jMeans[i]),fill:'#fff',stroke:colors[i],'stroke-width':1.1},g,'j-bar');
  });
  swarm(jPre,xs[0],sy,3.5,8.5,'circle',1.9,'#000',g,'j-swarm-pre');
  swarm(jLap,xs[1],sy,3.5,8.5,'square',1.8,colors[1],g,'j-swarm-2h-lap');
  swarm(jLapEGF,xs[2],sy,3.5,8.5,'up',1.7,colors[2],g,'j-swarm-2h-lap-20egf');
  swarm(jEGF,xs[3],sy,3.5,8.5,'down',1.7,colors[3],g,'j-swarm-20egf');
  xs.forEach(function(x,i){
    ln(x-6,sy(jMeans[i]),x+6,sy(jMeans[i]),g,'j-mean','#000',1);
    errBar(x,sy(jMeans[i]-jErrs[i]),sy(jMeans[i]+jErrs[i]),3.5,g,'j-error-bar','#000',.9);
    ln(x,912.3,x,915.3,g,'j-x-tick','#333',1);
    rtxt(x+5,922,jGroups[i],g,'j-x-label',10,-45,'end');
  });
  const bx=[409.3,436,462],by=[809,796,812.3],lx=[425.7,451.7,477.7],ly=[805,792,808.7];
  const plabels=['p=0.46','p=0.0013','p=0.66'];
  plabels.forEach(function(p,i){
    bracket(bx[i],bx[i]+30.7,by[i],3,g,'j-significance-bracket');
    pText(lx[i],ly[i],p,g,'j-p-value');
  });
  rtxt(359,851,'Anisotropy',g,'j-y-title',10,-90);
})();

// ---- Panel k ----
(function(){
  const g=mk('g',{},root,'panel-k');
  const sy=scale(2.6,2.8,849,806.7);
  const xs=[573.7,595,615.7,637.3,658.3];
  const colors=['#000','#9bd9e8','#4a55a6','#000','#d5352c'];
  const types=['down','square','up','down','diamond'];
  const datasets=[kPreLap,kLap,kLapEGF,kPreEGF,kEGF];
  frame(562.7,785.7,669.3,912.3,g,'k');
  ln(669.3,785.7,669.3,912.3,g,'k-right-edge','#999',1.6);
  yAxis(kYTicks,kYLabels,sy,562.7,g,'k');
  ln(626,785.7,626,909,g,'k-divider','#444',1,{'stroke-dasharray':'9 4'});
  datasets.forEach(function(d,i){
    swarm(d,xs[i],sy,3.2,6.5,types[i],1.7,colors[i],g,'k-swarm-'+i);
  });
  xs.forEach(function(x,i){
    ln(x-7,sy(kMeans[i]),x+7,sy(kMeans[i]),g,'k-mean','#000',1.1);
    errBar(x,sy(kMeans[i]-kErrs[i]),sy(kMeans[i]+kErrs[i]),3.5,g,'k-error-bar','#000',.9);
    ln(x,912.3,x,915.3,g,'k-x-tick','#333',1);
    rtxt(x+5,922,kGroups[i],g,'k-x-label',10,-45,'end');
  });
  const bx0=[574.3,575,598.7,639.3],bx1=[613.3,591.7,615.3,656],by=[762.7,779.3,779.3,779.3],lg=[3.3,2.5,2.5,2.5];
  const lx=[594,582.7,608.3,647.3],ly=[759,776,776,776];
  const plabels=['p=0.53','p=0.26','p=0.12','p=0.0001'];
  plabels.forEach(function(p,i){
    bracket(bx0[i],bx1[i],by[i],lg[i],g,'k-significance-bracket');
    pText(lx[i],ly[i],p,g,'k-p-value');
  });
  rtxt(531,850,'τ (ns)',g,'k-y-title',9.6,-90);
})();
</script>
</body>
</html>
